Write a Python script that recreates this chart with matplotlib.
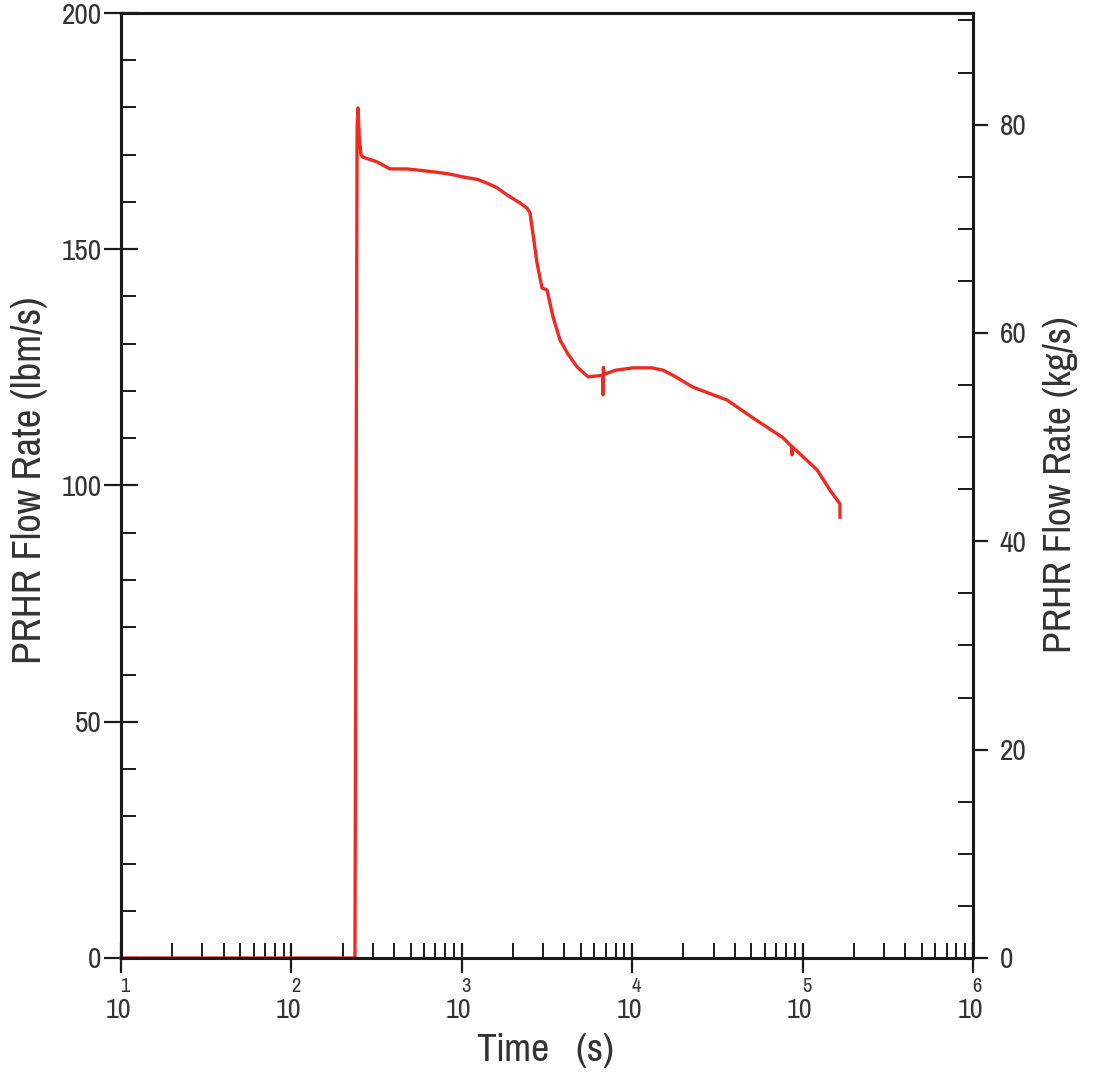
import matplotlib
matplotlib.use("Agg")
import matplotlib.pyplot as plt
from matplotlib import font_manager
from matplotlib.ticker import FixedLocator, NullFormatter, MultipleLocator, LogLocator

# ---- data ----
time_s = [10, 236, 243, 246, 250, 256, 262, 318, 379, 477, 715, 853, 1016, 1228, 1406,
          1609, 1843, 2195, 2414, 2513, 2763, 2956, 3162, 3295, 3430, 3770, 4200, 4746,
          5505, 6700, 6743, 6780, 6800, 8000, 10110, 13000, 15170, 18000, 22750, 35990,
          51150, 76740, 86000, 86650, 87000, 121600, 144900, 165700, 165700]
flow_lbm = [0, 0, 176, 179.9, 174, 170, 169.5, 168.5, 167.0, 167.0, 166.3, 165.9, 165.3,
            164.8, 164.0, 163.0, 161.5, 159.8, 158.7, 157.7, 147.1, 141.8, 141.4, 138.5,
            135.7, 130.8, 127.8, 125.1, 123.0, 123.3, 119.2, 125.0, 123.5, 124.4, 124.9,
            124.9, 124.4, 123.0, 120.8, 118.1, 114.3, 110.1, 108.3, 106.5, 108.2, 103.3,
            99.0, 96.1, 93.3]
left_ticks = [0, 50, 100, 150, 200]
right_ticks = [0, 20, 40, 60, 80]
x_exponents = [1, 2, 3, 4, 5, 6]
LBM_TO_KG = 0.45359237

# pick a narrow sans if one is installed, else Liberation Sans
def pick_font():
    best = None
    for f in font_manager.fontManager.ttflist:
        n = f.name
        if 'Mono' in n or 'Serif' in n:
            continue
        if f.style != 'normal' or f.weight not in (400, 'normal', 'regular'):
            continue
        if 'Narrow' in n or 'Condensed' in n or str(f.stretch) in ('condensed', 'semi-condensed'):
            if best is None or 'Narrow' in n:
                best = f
    if best is not None:
        return font_manager.FontProperties(fname=best.fname)
    return font_manager.FontProperties(family=['Liberation Sans', 'DejaVu Sans'])

FP = pick_font()
TXT = '#333333'
INK = '#1a1a1a'

def fp(size):
    p = FP.copy()
    p.set_size(size)
    return p

fig = plt.figure(figsize=(10.96, 10.77), dpi=100)
ax = fig.add_axes([121/1096, 119/1077, 852/1096, 945/1077])
ax2 = ax.twinx()

ax.plot(time_s, flow_lbm, color='#ee2a22', lw=2.4, zorder=5, clip_on=False,
        solid_joinstyle='round')

ax.set_xscale('log')
ax.set_xlim(10, 1e6)
ax.set_ylim(0, 200)
ax2.set_ylim(0, 200 * LBM_TO_KG)

for a in (ax, ax2):
    for s in a.spines.values():
        s.set_linewidth(2.2)
        s.set_color(INK)

# x ticks
ax.xaxis.set_major_locator(FixedLocator([10.0**e for e in x_exponents]))
ax.xaxis.set_minor_locator(LogLocator(base=10, subs=range(2, 10), numticks=20))
ax.xaxis.set_minor_formatter(NullFormatter())
ax.set_xticklabels([])
ax.tick_params(axis='x', which='major', direction='inout', length=21, width=1.6, color=INK)
ax.tick_params(axis='x', which='minor', direction='in', length=11, width=1.4, color=INK)
for e in x_exponents:
    ax.annotate('10', xy=(10.0**e, 0), xycoords=('data', 'axes fraction'),
                xytext=(-3, -52), textcoords='offset pixels', ha='center', va='center',
                fontproperties=fp(22), color=TXT)
    ax.annotate(str(e), xy=(10.0**e, 0), xycoords=('data', 'axes fraction'),
                xytext=(4, -29), textcoords='offset pixels', ha='center', va='center',
                fontproperties=fp(16), color=TXT)

# left y
ax.set_yticks(left_ticks)
ax.set_yticklabels([str(v) for v in left_ticks], fontproperties=fp(23), color=TXT)
ax.yaxis.set_minor_locator(MultipleLocator(10))
ax.tick_params(axis='y', which='major', direction='inout', length=24, width=1.6,
               color=INK, pad=2)
ax.tick_params(axis='y', which='minor', direction='in', length=11, width=1.4, color=INK)

# right y
ax2.set_yticks(right_ticks)
ax2.set_yticklabels([str(v) for v in right_ticks], fontproperties=fp(23), color=TXT)
ax2.yaxis.set_minor_locator(MultipleLocator(5))
ax2.tick_params(axis='y', which='major', direction='out', length=11, width=1.6,
                color=INK, pad=8)
ax2.tick_params(axis='y', which='minor', direction='in', length=11, width=1.4, color=INK)

fig.text(29/1096, 1 - 480/1077, 'PRHR Flow Rate (lbm/s)', rotation=90,
         ha='center', va='center', fontproperties=fp(32), color=TXT)
fig.text(1060/1096, 1 - 485/1077, 'PRHR Flow Rate (kg/s)', rotation=90,
         ha='center', va='center', fontproperties=fp(31), color=TXT)
fig.text(545/1096, 1 - 1050/1077, 'Time   (s)', ha='center', va='center',
         fontproperties=fp(31), color=TXT)

fig.savefig('out.png', dpi=100)
